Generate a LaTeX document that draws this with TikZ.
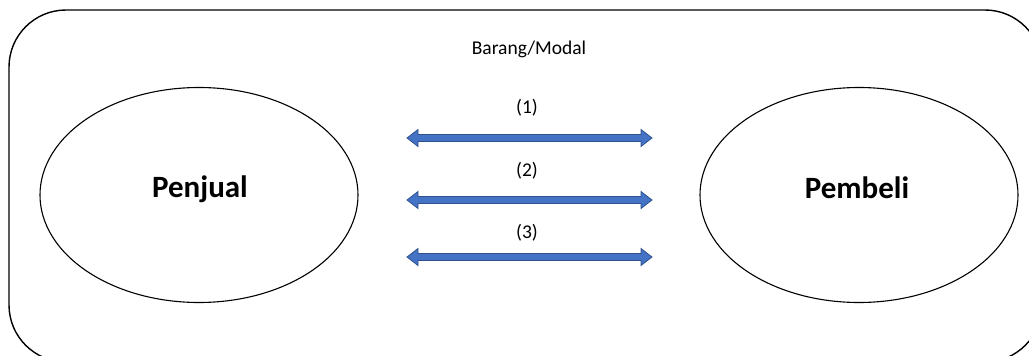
\documentclass[tikz,border=0pt]{standalone}
\usepackage{fontspec}
\setmainfont{Carlito}
\usetikzlibrary{shapes.geometric,calc}
\definecolor{arrowfill}{HTML}{4472C4}
\definecolor{arrowline}{HTML}{2F528F}
\begin{document}
\begin{tikzpicture}[x=1pt,y=-1pt,
  party/.style={draw=black,line width=1.1pt,ellipse,minimum width=318pt,minimum height=215pt,inner sep=0pt},
  bigtxt/.style={inner sep=0pt,anchor=base,font=\bfseries\fontsize{31}{34}\selectfont},
  lbl/.style={inner sep=0pt,anchor=base,font=\fontsize{19.5}{22}\selectfont},
  fatarrow/.style={fill=arrowfill,draw=arrowline,line width=0.8pt,line join=miter}]
\useasboundingbox (0,0) rectangle (1029,356);
\fill[white] (0,0) rectangle (1029,356);
\draw[line width=1.4pt,rounded corners=57pt] (9,10) rectangle (1042,362);
\node[party] (penjual) at (199,195) {};
\node[party] (pembeli) at (859,195) {};
\node[bigtxt] (tpenjual) at (200,197) {Penjual};
\node[bigtxt] (tpembeli) at (857,198) {Pembeli};
\node[lbl] (barang) at (529,54) {Barang/Modal};
\node[lbl] (l1) at (527,113) {(1)};
\node[lbl] (l2) at (527,176) {(2)};
\node[lbl] (l3) at (527,238) {(3)};
\foreach \y/\n in {138/1,200/2,257/3}{
  \coordinate (a\n l) at (407,\y);
  \coordinate (a\n r) at (652,\y);
  \draw[fatarrow] (a\n l) -- ++(11,-8.5) -- ++(0,5) -- ($(a\n r)+(-11,-3.5)$) -- ++(0,-5) -- (a\n r)
     -- ++(-11,8.5) -- ++(0,-5) -- ($(a\n l)+(11,3.5)$) -- ++(0,5) -- cycle;
}
\end{tikzpicture}
\end{document}
